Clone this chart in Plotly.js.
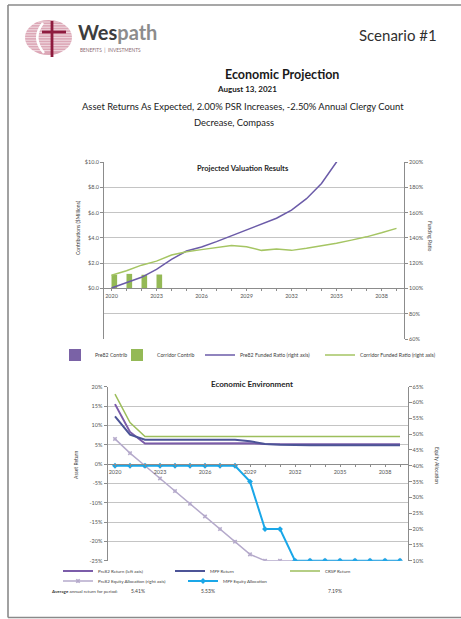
<!DOCTYPE html>
<html>
<head>
<meta charset="utf-8">
<script src="https://cdn.plot.ly/plotly-3.0.1.min.js"></script>
<style>
html,body{margin:0;padding:0;background:#ffffff;}
#chart{width:461px;height:619px;}
</style>
</head>
<body>
<div id="chart"></div>
<script>
// ---------- DATA ----------
const years = [2020,2021,2022,2023,2024,2025,2026,2027,2028,2029,2030,2031,2032,2033,2034,2035,2036,2037,2038,2039];
const labelYears = [2020,2023,2026,2029,2032,2035,2038];

// Projected Valuation Results ($ millions, funded ratio %)
const pre82Contrib    = [0,0,0,0,0,0,0,0,0,0,0,0,0,0,0,0,0,0,0,0];
const corridorContrib = [1.08,1.15,1.08,1.10,0,0,0,0,0,0,0,0,0,0,0,0,0,0,0,0];
const pre82Funded     = [100.3,104.3,108.8,115,123,129.6,132.8,137,141.6,146,150.6,155.5,162,171,183,200,221,244,268,294];
const corridorFunded  = [110.4,114,118.4,121.6,126.4,129,130.7,132.3,134,133,130.1,131.2,130.1,131.8,133.7,135.8,138.2,140.8,144,147.5];

// Economic Environment (%)
const pre82Return = [15.5,8.3,5.3,5.3,5.35,5.4,5.45,5.45,5.45,5.35,5.2,5.1,5.1,5.1,5.1,5.1,5.1,5.1,5.1,5.1];
const mpfReturn   = [12.3,7.6,6.3,6.3,6.3,6.3,6.3,6.3,6.3,5.9,5.2,5.0,4.85,4.85,4.85,4.85,4.85,4.85,4.85,4.85];
const crspReturn  = [18.1,10.7,7.1,7.1,7.1,7.1,7.1,7.1,7.1,7.1,7.1,7.1,7.1,7.1,7.1,7.1,7.1,7.1,7.1,7.1];
const pre82Equity = [48.5,44,40,36,32,28,24,20,16,12,10,10,10,10,10,10,10,10,10,10];
const mpfEquity   = [40,40,40,40,40,40,40,40,40,35,20,20,10,10,10,10,10,10,10,10];

const contribTicks   = [0,2,4,6,8,10];
const contribLabels  = ['$0.0','$2.0','$4.0','$6.0','$8.0','$10.0'];
const returnTicks    = [-25,-20,-15,-10,-5,0,5,10,15,20];
const returnLabels   = ['-25%','-20%','-15%','-10%','-5%','0%','5%','10%','15%','20%'];
const avgLabel = 'annual return for period:';
const avgReturns = ['5.41%','5.53%','7.19%'];

// ---------- LAYOUT HELPERS ----------
const W = 461, H = 619;
const X = p => p / W;
const Y = p => 1 - p / H;
const FONT = 'Lato, "Open Sans", sans-serif';
const tickText = years.map(y => labelYears.indexOf(y) >= 0 ? String(y) : '');

const xd1 = [X(104), X(404)], yd1 = [Y(339), Y(162)];
const xd2 = [X(107.5), X(407.5)], yd2 = [Y(560.7), Y(386.7)];
const pos1 = yd1[0] + (4/14) * (yd1[1] - yd1[0]);
const pos2 = yd2[0] + (25/45) * (yd2[1] - yd2[0]);

const axisLine = '#8c8c8c', gridC = '#c4c4c4', tickC = '#555555';
const tf = {size: 5.5, color: tickC, family: FONT};

function lg(xp, yp, size) {
  return {x: X(xp), y: Y(yp), xanchor: 'left', yanchor: 'middle', orientation: 'h',
          bgcolor: 'rgba(0,0,0,0)', borderwidth: 0, itemwidth: 30,
          font: {size: size, color: '#404040', family: FONT}};
}
function ann(text, xp, yp, o) {
  o = o || {};
  return Object.assign({text: text, x: X(xp), y: Y(yp), xref: 'paper', yref: 'paper',
    showarrow: false, xanchor: 'center', yanchor: 'middle', borderpad: 0,
    font: {size: o.size || 6, color: o.color || '#262626', family: FONT}}, o.extra || {});
}

// ---------- TRACES ----------
const traces = [
  {type: 'bar', name: 'Pre82 Contrib', x: years, y: pre82Contrib, xaxis: 'x', yaxis: 'y',
   marker: {color: '#7A62A6'}, legend: 'legend'},
  {type: 'bar', name: 'Corridor Contrib', x: years, y: corridorContrib, xaxis: 'x', yaxis: 'y',
   marker: {color: '#94B956'}, legend: 'legend2'},
  {type: 'scatter', mode: 'lines', name: 'Pre82 Funded Ratio (right axis)', x: years, y: pre82Funded,
   xaxis: 'x', yaxis: 'y2', line: {color: '#6B5BA8', width: 1.5}, legend: 'legend3'},
  {type: 'scatter', mode: 'lines', name: 'Corridor Funded Ratio (right axis)', x: years, y: corridorFunded,
   xaxis: 'x', yaxis: 'y2', line: {color: '#A5C563', width: 1.5}, legend: 'legend4'},

  {type: 'scatter', mode: 'lines', name: 'Pre82 Return (left axis)', x: years, y: pre82Return,
   xaxis: 'x2', yaxis: 'y3', line: {color: '#7B5CA9', width: 2}, legend: 'legend5'},
  {type: 'scatter', mode: 'lines', name: 'MPF Return', x: years, y: mpfReturn,
   xaxis: 'x2', yaxis: 'y3', line: {color: '#4C5497', width: 2}, legend: 'legend6'},
  {type: 'scatter', mode: 'lines', name: 'CRSP Return', x: years, y: crspReturn,
   xaxis: 'x2', yaxis: 'y3', line: {color: '#9DBE5C', width: 1.5}, legend: 'legend7'},
  {type: 'scatter', mode: 'lines+markers', name: 'Pre82 Equity Allocation (right axis)', x: years, y: pre82Equity,
   xaxis: 'x2', yaxis: 'y4', line: {color: '#B5AACB', width: 1.5},
   marker: {symbol: 'x', size: 4, color: '#B5AACB'}, legend: 'legend8'},
  {type: 'scatter', mode: 'lines+markers', name: 'MPF Equity Allocation', x: years, y: mpfEquity,
   xaxis: 'x2', yaxis: 'y4', line: {color: '#1AA7E8', width: 2},
   marker: {symbol: 'diamond', size: 4.5, color: '#1AA7E8'}, legend: 'legend9'}
];

// ---------- SHAPES (page edge + logo) ----------
const edge = {color: '#8a8a8a', width: 1.6};
const shapes = [
  {type: 'line', xref: 'paper', yref: 'paper', x0: X(8), x1: X(461), y0: Y(5), y1: Y(5), line: edge},
  {type: 'line', xref: 'paper', yref: 'paper', x0: X(8), x1: X(8), y0: Y(5), y1: Y(617.5), line: edge},
  {type: 'line', xref: 'paper', yref: 'paper', x0: X(8), x1: X(461), y0: Y(617.5), y1: Y(617.5), line: edge},
  {type: 'circle', xref: 'paper', yref: 'paper', x0: X(25), x1: X(72), y0: Y(20), y1: Y(55),
   fillcolor: '#DCA7B6', line: {width: 0}}
];
const cx = 48.5, cy = 37.5, rx = 23.5, ry = 17.5;
for (let yy = 22; yy <= 53; yy += 2.6) {
  const t = (yy - cy) / ry;
  if (Math.abs(t) >= 1) continue;
  const hw = rx * Math.sqrt(1 - t * t);
  shapes.push({type: 'line', xref: 'paper', yref: 'paper', x0: X(cx - hw), x1: X(cx + hw), y0: Y(yy), y1: Y(yy),
               line: {color: 'rgba(255,255,255,0.75)', width: 0.8}});
}
shapes.push({type: 'path', xref: 'paper', yref: 'paper',
  path: `M ${X(43)} ${Y(23)} Q ${X(31)} ${Y(38)} ${X(44)} ${Y(53)}`,
  line: {color: '#ffffff', width: 2.5}});
shapes.push({type: 'line', xref: 'paper', yref: 'paper', x0: X(52), x1: X(52), y0: Y(21), y1: Y(57),
  line: {color: '#8E1B3E', width: 2.8}});
shapes.push({type: 'line', xref: 'paper', yref: 'paper', x0: X(42), x1: X(66), y0: Y(32), y1: Y(32),
  line: {color: '#8E1B3E', width: 2.8}});

// ---------- ANNOTATIONS ----------
const annotations = [
  ann('<b>Wes</b><span style="color:#8c8c8c"><b>path</b></span>', 77, 32, {size: 20, color: '#3d3d3d', extra: {xanchor: 'left'}}),
  ann('BENEFITS  |  INVESTMENTS', 79, 49.5, {size: 4.8, color: '#8a6a72', extra: {xanchor: 'left'}}),
  ann('Scenario #1', 358, 35, {size: 15, color: '#303030', extra: {xanchor: 'left'}}),
  ann('<b>Economic Projection</b>', 282, 74, {size: 12.5, color: '#1a1a1a'}),
  ann('<b>August 13, 2021</b>', 247, 89, {size: 8, color: '#1a1a1a'}),
  ann('Asset Returns As Expected, 2.00% PSR Increases, -2.50% Annual Clergy Count', 243, 106, {size: 9.4, color: '#1a1a1a'}),
  ann('Decrease, Compass', 234, 122, {size: 9.4, color: '#1a1a1a'}),

  ann('<b>Projected Valuation Results</b>', 243, 168, {size: 7.5}),
  ann('Contributions ($Millions)', 78, 228, {size: 5, color: '#404040', extra: {textangle: -90}}),
  ann('Funding Ratio', 430, 236, {size: 5, color: '#404040', extra: {textangle: 90}}),

  ann('<b>Economic Environment</b>', 252, 384, {size: 8}),
  ann('Asset Return', 76, 465, {size: 5, color: '#404040', extra: {textangle: -90}}),
  ann('Equity Allocation', 437, 465, {size: 5, color: '#404040', extra: {textangle: 90}}),

  ann('<b>Average</b> ' + avgLabel, 50, 591, {size: 4.5, color: '#404040', extra: {xanchor: 'left'}}),
  ann(avgReturns[0], 130, 591, {size: 5, color: '#404040', extra: {xanchor: 'left'}}),
  ann(avgReturns[1], 200, 591, {size: 5, color: '#404040', extra: {xanchor: 'left'}}),
  ann(avgReturns[2], 327, 591, {size: 5, color: '#404040', extra: {xanchor: 'left'}})
];

// ---------- LAYOUT ----------
const xCommon = {range: [2019.5, 2039.5], tickvals: years, ticktext: tickText, ticks: 'outside', ticklen: 2,
  tickcolor: axisLine, showline: true, linecolor: axisLine, linewidth: 1, showgrid: false, zeroline: false,
  tickfont: tf, anchor: 'free', fixedrange: true};

const layout = {
  width: W, height: H, autosize: false,
  margin: {l: 0, r: 0, t: 0, b: 0},
  paper_bgcolor: '#ffffff', plot_bgcolor: 'rgba(0,0,0,0)',
  font: {family: FONT, color: '#404040'},
  barmode: 'group', bargap: 0.25, bargroupgap: 0,
  xaxis: Object.assign({}, xCommon, {domain: xd1, position: pos1}),
  yaxis: {domain: yd1, anchor: 'x', range: [-4, 10], tickvals: contribTicks, ticktext: contribLabels,
    showgrid: false, zeroline: false, showline: true, linecolor: axisLine, ticks: 'outside', ticklen: 3,
    tickcolor: axisLine, tickfont: tf},
  yaxis2: {overlaying: 'y', side: 'right', anchor: 'x', range: [60, 200], dtick: 20, tick0: 60, ticksuffix: '%',
    showgrid: true, gridcolor: gridC, gridwidth: 1, zeroline: false, showline: true, linecolor: axisLine,
    ticks: 'outside', ticklen: 3, tickcolor: axisLine, tickfont: tf},
  xaxis2: Object.assign({}, xCommon, {domain: xd2, position: pos2}),
  yaxis3: {domain: yd2, anchor: 'x2', range: [-25, 20], tickvals: returnTicks, ticktext: returnLabels,
    showgrid: true, gridcolor: gridC, gridwidth: 1, zeroline: false, showline: true, linecolor: axisLine,
    ticks: 'outside', ticklen: 3, tickcolor: axisLine, tickfont: tf},
  yaxis4: {overlaying: 'y3', side: 'right', anchor: 'x2', range: [10, 65], dtick: 5, tick0: 10, ticksuffix: '%',
    showgrid: false, zeroline: false, showline: true, linecolor: axisLine,
    ticks: 'outside', ticklen: 3, tickcolor: axisLine, tickfont: tf},
  legend:  lg(55, 355, 5.2),
  legend2: lg(117, 355, 5.2),
  legend3: lg(200, 355, 5.2),
  legend4: lg(320, 355, 5.2),
  legend5: lg(58, 571, 4.5),
  legend6: lg(170, 571, 4.5),
  legend7: lg(285, 571, 4.5),
  legend8: lg(58, 581, 4.5),
  legend9: lg(183, 581, 4.5),
  shapes: shapes,
  annotations: annotations,
  showlegend: true
};

Plotly.newPlot('chart', traces, layout, {displayModeBar: false, staticPlot: true});
</script>
</body>
</html>
